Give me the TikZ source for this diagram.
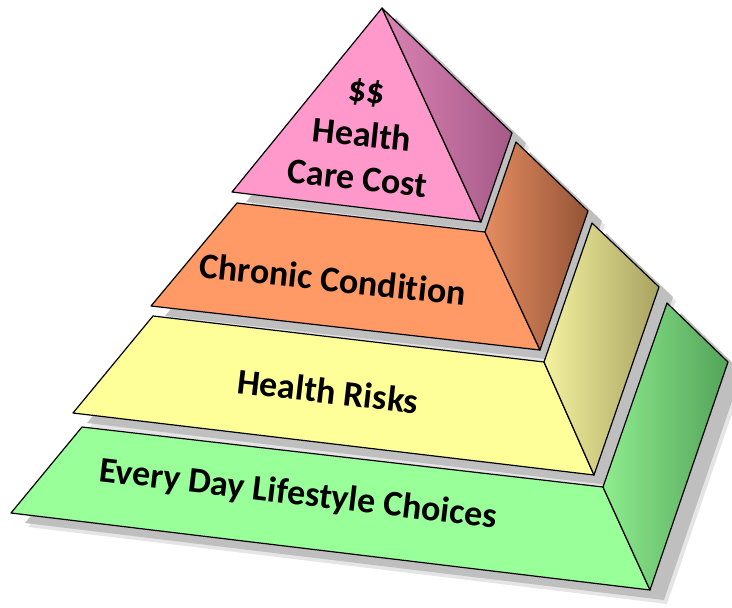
\documentclass[tikz,border=0pt]{standalone}
\usepackage{fontspec}
\setmainfont[Ligatures={NoCommon}]{Carlito}
\definecolor{pinkfront}{RGB}{255,153,204}
\definecolor{pinklight}{RGB}{218,130,180}
\definecolor{pinkdark}{RGB}{165,90,136}
\definecolor{orangefront}{RGB}{255,153,102}
\definecolor{orangelight}{RGB}{228,140,96}
\definecolor{orangedark}{RGB}{148,84,54}
\definecolor{yellowfront}{RGB}{255,255,153}
\definecolor{yellowlight}{RGB}{244,242,160}
\definecolor{yellowdark}{RGB}{168,162,96}
\definecolor{greenfront}{RGB}{153,255,153}
\definecolor{greenlight}{RGB}{142,236,142}
\definecolor{greendark}{RGB}{84,164,90}
\begin{document}
\begin{tikzpicture}[x=1pt, y=-1pt,
    face/.style={draw=black, line width=1.2pt, line join=round},
    side/.style 2 args={face, left color=#1, right color=#2},
    shade/.style={fill=black!25, shift={(14,10)}},
    softshade/.style={fill=black, opacity=0.1, shift={(17,14)}},
    layertext/.style={font=\fontsize{36}{44}\selectfont\bfseries, align=center, inner sep=0pt}]
    \useasboundingbox (0,0) rectangle (732,608);
    % shadows behind all layers
    \foreach \s in {softshade, shade} {
        \fill[\s] (82,427) -- (603,487) -- (667,303) -- (728,362) -- (650,590) -- (11,513) -- cycle;
        \fill[\s] (153,316) -- (544,362) -- (592,223) -- (659,287) -- (594,475) -- (73,413) -- cycle;
        \fill[\s] (237,203) -- (485,232) -- (516,142) -- (588,211) -- (540,350) -- (151,306) -- cycle;
        \fill[\s] (382,8) -- (512,133) -- (481,222) -- (232,192) -- cycle;
    }
    % every day lifestyle choices
    \draw[face, fill=greenfront] (82,427) -- (603,487) -- (650,590) -- (11,513) -- cycle;
    \draw[side={greenlight}{greendark}] (603,487) -- (667,303) -- (728,362) -- (650,590) -- cycle;
    % health risks
    \draw[face, fill=yellowfront] (153,316) -- (544,362) -- (594,475) -- (73,413) -- cycle;
    \draw[side={yellowlight}{yellowdark}] (544,362) -- (592,223) -- (659,287) -- (594,475) -- cycle;
    % chronic condition
    \draw[face, fill=orangefront] (237,203) -- (485,232) -- (540,350) -- (151,306) -- cycle;
    \draw[side={orangelight}{orangedark}] (485,232) -- (516,142) -- (588,211) -- (540,350) -- cycle;
    % health care cost
    \draw[face, fill=pinkfront] (382,8) -- (481,222) -- (232,192) -- cycle;
    \draw[side={pinklight}{pinkdark}] (382,8) -- (512,133) -- (481,222) -- cycle;
    \node[layertext, rotate=-6] (cost) at (362,135) {\$\$\\Health\\Care Cost};
    \node[layertext, rotate=-6] (chronic) at (333,279) {Chronic Condition};
    \node[layertext, rotate=-6.5] (risks) at (328,391) {Health Risks};
    \node[layertext, rotate=-6.8] (lifestyle) at (298,495) {Every Day Lifestyle Choices};
\end{tikzpicture}
\end{document}
